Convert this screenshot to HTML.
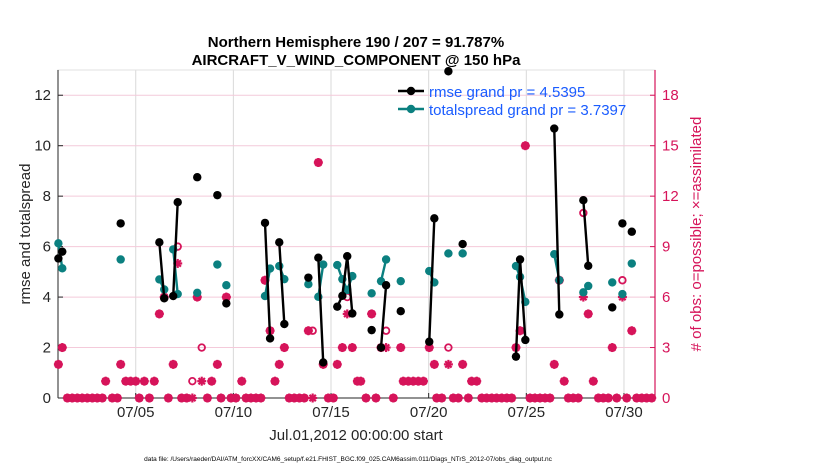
<!DOCTYPE html>
<html><head><meta charset="utf-8"><style>
body{margin:0;background:#fff;}
svg{font-family:"Liberation Sans",sans-serif;}
</style></head><body>
<svg id="chart" width="830" height="470" xmlns="http://www.w3.org/2000/svg"></svg>
<script>
const obsTimes=[0.04,0.24,0.50,0.75,1.01,1.26,1.52,1.78,2.03,2.29,2.46,2.80,3.06,3.23,3.49,3.74,4.00,4.18,4.44,4.70,4.95,5.21,5.46,5.67,5.92,6.15,6.35,6.61,6.90,7.15,7.38,7.67,7.89,8.18,8.37,8.64,8.88,9.13,9.43,9.65,9.90,10.16,10.41,10.62,10.88,11.13,11.35,11.61,11.86,12.12,12.38,12.63,12.84,13.06,13.35,13.60,13.86,14.12,14.32,14.58,14.83,15.09,15.35,15.52,15.79,16.08,16.30,16.56,16.82,17.19,17.57,17.70,17.96,18.21,18.47,18.73,19.03,19.29,19.41,19.67,20.01,20.26,20.52,20.74,21.03,21.20,21.46,21.72,21.97,22.23,22.48,22.74,23.00,23.25,23.47,23.68,23.95,24.19,24.44,24.70,24.96,25.21,25.43,25.69,25.94,26.15,26.40,26.66,26.92,27.17,27.43,27.69,27.94,28.20,28.40,28.63,28.92,29.14,29.40,29.65,29.91,30.16,30.42];
const obsAssim=[2,3,0,0,0,0,0,0,0,0,1,0,0,2,1,1,1,0,1,0,1,5,6,0,2,8,0,0,0,6,1,0,1,2,0,6,0,0,1,0,0,0,0,7,4,1,2,3,0,0,0,0,4,0,14,2,0,0,2,3,5,3,1,1,0,5,0,3,3,0,3,1,1,1,1,1,3,2,0,0,2,0,0,2,0,1,1,0,0,0,0,0,0,0,3,4,15,0,0,0,0,0,2,7,1,0,0,0,6,5,1,0,0,0,3,0,6,0,4,0,0,0,0];
const obsPossible=[2,3,0,0,0,0,0,0,0,0,1,0,0,2,1,1,1,0,1,0,1,5,6,0,2,9,0,0,1,6,3,0,1,2,0,6,0,0,1,0,0,0,0,7,4,1,2,3,0,0,0,0,4,4,14,2,0,0,2,3,6,3,1,1,0,5,0,3,4,0,3,1,1,1,1,1,3,2,0,0,3,0,0,2,0,1,1,0,0,0,0,0,0,0,3,4,15,0,0,0,0,0,2,7,1,0,0,0,11,5,1,0,0,0,3,0,7,0,4,0,0,0,0];
const rmseTimes=[0.04,0.24,3.23,5.21,5.46,5.92,6.15,7.15,8.18,8.64,10.62,10.88,11.35,11.61,12.84,13.35,13.60,14.32,14.58,14.83,15.09,16.08,16.56,16.82,17.57,19.03,19.29,20.01,20.74,23.47,23.68,23.95,25.43,25.69,26.92,27.17,28.40,28.92,29.40];
const rmseValues=[5.53,5.8,6.92,6.17,3.95,4.04,7.76,8.75,8.04,3.75,6.94,2.36,6.17,2.93,4.77,5.56,1.41,3.62,4.05,5.62,3.35,2.69,2.0,4.47,3.44,2.23,7.12,12.95,6.1,1.64,5.49,2.3,10.68,3.31,7.84,5.24,3.59,6.92,6.59];
const spreadValues=[6.13,5.14,5.49,4.7,4.3,5.89,4.12,4.17,5.29,4.47,4.04,5.13,5.23,4.71,4.51,4.01,5.29,5.27,4.71,4.28,4.83,4.15,4.63,5.49,4.63,5.03,4.58,5.73,5.73,5.23,4.8,3.81,5.7,4.67,4.19,4.44,4.58,4.12,5.33];
const xTickDays=[4,9,14,19,24,29];
const xTickLabels=["07/05","07/10","07/15","07/20","07/25","07/30"];
const yTicks=[0,2,4,6,8,10,12];
const y2Ticks=[0,3,6,9,12,15,18];

const NS="http://www.w3.org/2000/svg";
const svg=document.getElementById('chart');
const L=58,R=655,T=70,B=398;
const xS=d=>57.6+d*19.53;
const yS=v=>B-(v/13)*(B-T);
const y2S=n=>B-(n/19.5)*(B-T);
const PINK="#d6145a",TEAL="#0b8080";
function mk(tag,attrs,parent){const e=document.createElementNS(NS,tag);for(const k in attrs)e.setAttribute(k,attrs[k]);(parent||svg).appendChild(e);return e;}

xTickDays.forEach((d,i)=>{const g=mk('line',{x1:xS(d),x2:xS(d),y1:T,y2:B,stroke:'#d9d9d9','stroke-width':1});

});
y2Ticks.forEach(n=>{if(n===0)return;const g=mk('line',{x1:L,x2:R,y1:y2S(n),y2:y2S(n),stroke:'#f4cada','stroke-width':1});

});
const fr=mk('rect',{x:L,y:T,width:R-L,height:B-T,fill:'none',stroke:'#e0e0e0'});


const la=mk('line',{x1:L,x2:L,y1:T,y2:B,stroke:'#262626'});


const ba=mk('line',{x1:L,x2:R,y1:B,y2:B,stroke:'#262626'});


const ra=mk('line',{x1:R,x2:R,y1:T,y2:B,stroke:PINK,'stroke-width':1.2});



yTicks.forEach(v=>{mk('line',{x1:L,x2:L+5,y1:yS(v),y2:yS(v),stroke:'#262626'});
const t=mk('text',{x:L-7,y:yS(v)+5,'text-anchor':'end','font-size':15,fill:'#262626'});t.textContent=v;

});
y2Ticks.forEach(n=>{mk('line',{x1:R-5,x2:R,y1:y2S(n),y2:y2S(n),stroke:PINK});
const t=mk('text',{x:R+7,y:y2S(n)+5,'font-size':15,fill:PINK});t.textContent=n;

});
xTickDays.forEach((d,i)=>{mk('line',{x1:xS(d),x2:xS(d),y1:B-5,y2:B,stroke:'#262626'});
const t=mk('text',{x:xS(d),y:B+19,'text-anchor':'middle','font-size':15,fill:'#262626'});t.textContent=xTickLabels[i];

});

function star(x,y,g){for(let a=0;a<4;a++){const an=a*Math.PI/4;mk('line',{x1:x-4.5*Math.cos(an),y1:y-4.5*Math.sin(an),x2:x+4.5*Math.cos(an),y2:y+4.5*Math.sin(an),stroke:PINK,'stroke-width':2.2},g);}}
obsTimes.forEach((t,i)=>{
  const g=mk('g',{});
  
  
  const x=xS(t),ya=y2S(obsAssim[i]),yp=y2S(obsPossible[i]);
  if(obsAssim[i]===obsPossible[i]){mk('circle',{cx:x,cy:ya,r:3.6,fill:PINK,stroke:PINK,'stroke-width':1.5},g);star(x,ya,g);}
  else{mk('circle',{cx:x,cy:yp,r:3.3,fill:'none',stroke:PINK,'stroke-width':1.8},g);star(x,ya,g);}
});

function series(vals,color,name){
  let path='';
  rmseTimes.forEach((t,i)=>{const x=xS(t),y=yS(vals[i]);
    if(i>0&&t-rmseTimes[i-1]<0.35)path+=`L${x},${y}`;else path+=`M${x},${y}`;});
  const p=mk('path',{d:path,fill:'none',stroke:color,'stroke-width':2.4});
  
  
  rmseTimes.forEach((t,i)=>{const c=mk('circle',{cx:xS(t),cy:yS(vals[i]),r:4.2,fill:color});
    
    });
}
series(spreadValues,TEAL,'totalspread');
series(rmseValues,'#000','rmse');
</script>
<svg width="830" height="470" style="position:absolute;left:0;top:0" font-family="Liberation Sans, sans-serif">
  <text x="356" y="47" text-anchor="middle" font-size="15" font-weight="bold" fill="#000">Northern Hemisphere 190 / 207 = 91.787%</text>
  <text x="356" y="65" text-anchor="middle" font-size="15" font-weight="bold" fill="#000">AIRCRAFT_V_WIND_COMPONENT @ 150 hPa</text>
  <text transform="translate(30,234) rotate(-90)" text-anchor="middle" font-size="15" fill="#262626">rmse and totalspread</text>
  <text transform="translate(701,234) rotate(-90)" text-anchor="middle" font-size="15" fill="#d6145a"># of obs: o=possible; ×=assimilated</text>
  <text x="356" y="440" text-anchor="middle" font-size="15" fill="#262626">Jul.01,2012 00:00:00 start</text>
  <text x="348" y="461" text-anchor="middle" font-size="6.5" fill="#000">data file: /Users/raeder/DAI/ATM_forcXX/CAM6_setup/f.e21.FHIST_BGC.f09_025.CAM6assim.011/Diags_NTrS_2012-07/obs_diag_output.nc</text>
  <g>
    <line x1="398" y1="91" x2="424" y2="91" stroke="#000" stroke-width="2.4"/>
    <circle cx="411" cy="91" r="4.2" fill="#000"/>
    <text x="429" y="97" font-size="15" fill="#1a5cff">rmse grand pr = 4.5395</text>
    <line x1="398" y1="109" x2="424" y2="109" stroke="#0b8080" stroke-width="2.4"/>
    <circle cx="411" cy="109" r="4.2" fill="#0b8080"/>
    <text x="429" y="115" font-size="15" fill="#1a5cff">totalspread grand pr = 3.7397</text>
  </g>
</svg>
</body></html>
